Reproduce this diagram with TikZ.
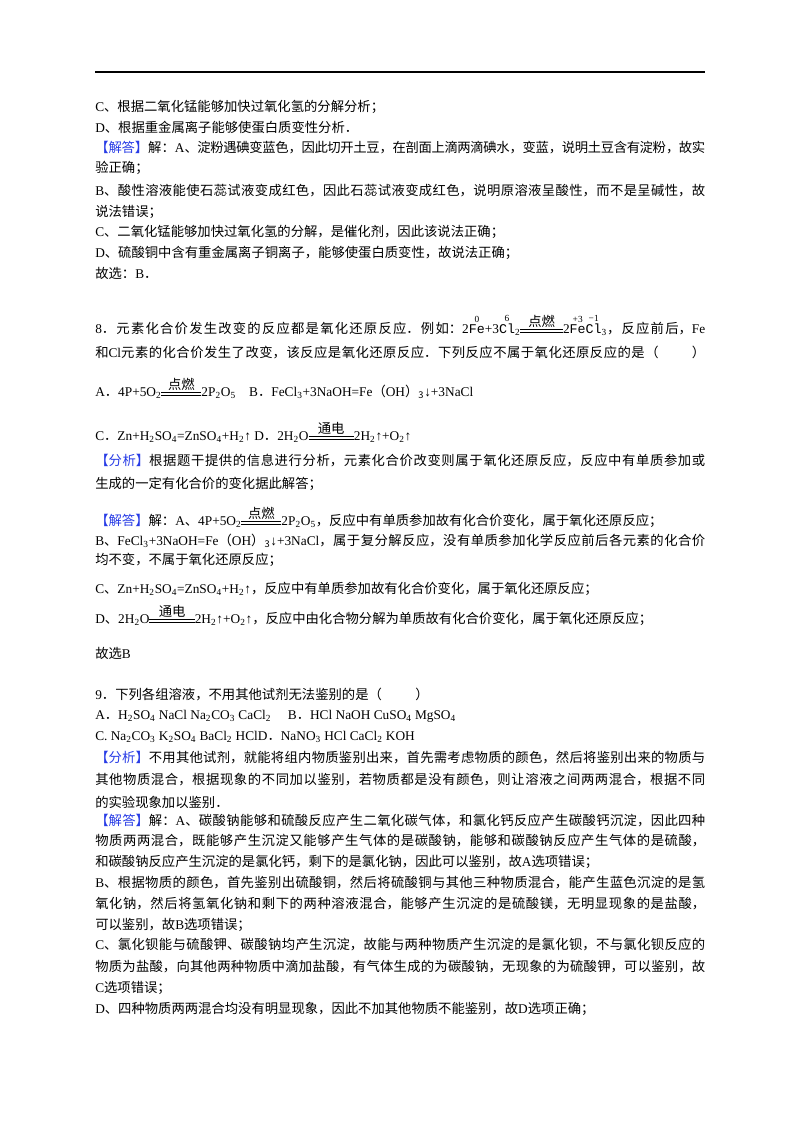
\documentclass[tikz,border=0pt]{standalone}
\usepackage{amsmath}
\usepackage{fontspec}
\setmainfont{Liberation Serif}
\newfontfamily\latinf{Liberation Serif}
\newfontfamily\cjk{Noto Sans CJK SC}
\newfontfamily\monof{Liberation Mono}
\XeTeXinterchartokenstate=1
\newXeTeXintercharclass\cjkcls
\count255="3000 \loop \XeTeXcharclass\count255=\cjkcls \ifnum\count255<"303F \advance\count255 1 \repeat
\count255="4E00 \loop \XeTeXcharclass\count255=\cjkcls \ifnum\count255<"9FFF \advance\count255 1 \repeat
\count255="FF00 \loop \XeTeXcharclass\count255=\cjkcls \ifnum\count255<"FFEF \advance\count255 1 \repeat
\XeTeXinterchartoks 0 \cjkcls={\cjk}
\XeTeXinterchartoks 4095 \cjkcls={\cjk}
\XeTeXinterchartoks \cjkcls 0={\latinf}
\XeTeXlinebreaklocale "zh"
\XeTeXlinebreakskip=0pt plus 2pt minus 0.3pt
\definecolor{jdblue}{RGB}{40,60,230}
\newcommand\blu[1]{\textcolor{jdblue}{#1}}
\newcommand\chsub[1]{\textsubscript{#1}\latinf}
\newcommand\rxn[2][3em]{$\overset{\mbox{#2}}{\raisebox{.25ex}{\vbox{\hrule width #1 height .5pt\kern1.3pt\hrule height .5pt}}}$\latinf}
\newcommand\val[2]{$\overset{\mbox{\scriptsize #1}}{\mbox{\monof #2}}$\latinf}
\begin{document}
\begin{tikzpicture}[x=0.75pt,y=-0.75pt,
  ln/.style={anchor=west,inner sep=0pt,font=\fontsize{10pt}{12pt}\selectfont},
  full/.style={ln,text width=457.5pt,align=justify,execute at begin node={\parfillskip=0pt}}]
\fill[white] (0,0) rectangle (800,1132);
\draw[line width=0.8pt] (95,72) coordinate (r1) -- (705,72) coordinate (r2);
\node[ln] (l1) at (95,107) {C、根据二氧化锰能够加快过氧化氢的分解分析；};
\node[ln] (l2) at (95,127) {D、根据重金属离子能够使蛋白质变性分析．};
\node[full] (l3) at (95,148) {\blu{【解答】}解：A、淀粉遇碘变蓝色，因此切开土豆，在剖面上滴两滴碘水，变蓝，说明土豆含有淀粉，故实};
\node[ln] (l4) at (95,168) {验正确；};
\node[full] (l5) at (95,191) {B、酸性溶液能使石蕊试液变成红色，因此石蕊试液变成红色，说明原溶液呈酸性，而不是呈碱性，故};
\node[ln] (l6) at (95,212) {说法错误；};
\node[ln] (l7) at (95,232) {C、二氧化锰能够加快过氧化氢的分解，是催化剂，因此该说法正确；};
\node[ln] (l8) at (95,253) {D、硫酸铜中含有重金属离子铜离子，能够使蛋白质变性，故说法正确；};
\node[ln] (l9) at (95,273) {故选：B．};
%
\node[full] (m1) at (95,325) {8．元素化合价发生改变的反应都是氧化还原反应．例如：2\val{0}{Fe}+3\val{6}{Cl}\chsub{2}\rxn[3.2em]{点燃}2\val{+3}{Fe}\val{−1}{Cl}\chsub{3}，反应前后，Fe};
\node[full] (m2) at (95,353) {和Cl元素的化合价发生了改变，该反应是氧化还原反应．下列反应不属于氧化还原反应的是（\hspace{2.5em}）};
\node[ln] (m3) at (95,388) {A．4P+5O\chsub{2}\rxn{点燃}2P\chsub{2}O\chsub{5}\quad B．FeCl\chsub{3}+3NaOH=Fe（OH）\chsub{3}↓+3NaCl};
\node[ln] (m4) at (95,432) {C．Zn+H\chsub{2}SO\chsub{4}=ZnSO\chsub{4}+H\chsub{2}↑ D．2H\chsub{2}O\rxn[3.4em]{通电}2H\chsub{2}↑+O\chsub{2}↑};
\node[full] (m5) at (95,461) {\blu{【分析】}根据题干提供的信息进行分析，元素化合价改变则属于氧化还原反应，反应中有单质参加或};
\node[ln] (m6) at (95,484) {生成的一定有化合价的变化据此解答；};
\node[ln] (m7) at (95,517) {\blu{【解答】}解：A、4P+5O\chsub{2}\rxn{点燃}2P\chsub{2}O\chsub{5}，反应中有单质参加故有化合价变化，属于氧化还原反应；};
\node[full] (m8) at (95,541) {B、FeCl\chsub{3}+3NaOH=Fe（OH）\chsub{3}↓+3NaCl，属于复分解反应，没有单质参加化学反应前后各元素的化合价};
\node[ln] (m9) at (95,560) {均不变，不属于氧化还原反应；};
\node[ln] (m10) at (95,589) {C、Zn+H\chsub{2}SO\chsub{4}=ZnSO\chsub{4}+H\chsub{2}↑，反应中有单质参加故有化合价变化，属于氧化还原反应；};
\node[ln] (m11) at (95,615) {D、2H\chsub{2}O\rxn[3.4em]{通电}2H\chsub{2}↑+O\chsub{2}↑，反应中由化合物分解为单质故有化合价变化，属于氧化还原反应；};
\node[ln] (m12) at (95,653) {故选B};
%
\node[ln] (n1) at (95,694) {9．下列各组溶液，不用其他试剂无法鉴别的是（\hspace{2.5em}）};
\node[ln] (n2) at (95,716) {A．H\chsub{2}SO\chsub{4} NaCl Na\chsub{2}CO\chsub{3} CaCl\chsub{2}\quad\ B．HCl NaOH CuSO\chsub{4} MgSO\chsub{4}};
\node[ln] (n3) at (95,737) {C. Na\chsub{2}CO\chsub{3} K\chsub{2}SO\chsub{4} BaCl\chsub{2} HClD．NaNO\chsub{3} HCl CaCl\chsub{2} KOH};
\node[full] (n4) at (95,758) {\blu{【分析】}不用其他试剂，就能将组内物质鉴别出来，首先需考虑物质的颜色，然后将鉴别出来的物质与};
\node[full] (n5) at (95,780) {其他物质混合，根据现象的不同加以鉴别，若物质都是没有颜色，则让溶液之间两两混合，根据不同};
\node[ln] (n6) at (95,802) {的实验现象加以鉴别．};
\node[full] (n7) at (95,821) {\blu{【解答】}解：A、碳酸钠能够和硫酸反应产生二氧化碳气体，和氯化钙反应产生碳酸钙沉淀，因此四种};
\node[full] (n8) at (95,841) {物质两两混合，既能够产生沉淀又能够产生气体的是碳酸钠，能够和碳酸钠反应产生气体的是硫酸，};
\node[ln] (n9) at (95,862) {和碳酸钠反应产生沉淀的是氯化钙，剩下的是氯化钠，因此可以鉴别，故A选项错误；};
\node[full] (n10) at (95,883) {B、根据物质的颜色，首先鉴别出硫酸铜，然后将硫酸铜与其他三种物质混合，能产生蓝色沉淀的是氢};
\node[full] (n11) at (95,904) {氧化钠，然后将氢氧化钠和剩下的两种溶液混合，能够产生沉淀的是硫酸镁，无明显现象的是盐酸，};
\node[ln] (n12) at (95,925) {可以鉴别，故B选项错误；};
\node[full] (n13) at (95,945) {C、氯化钡能与硫酸钾、碳酸钠均产生沉淀，故能与两种物质产生沉淀的是氯化钡，不与氯化钡反应的};
\node[full] (n14) at (95,967) {物质为盐酸，向其他两种物质中滴加盐酸，有气体生成的为碳酸钠，无现象的为硫酸钾，可以鉴别，故};
\node[ln] (n15) at (95,988) {C选项错误；};
\node[ln] (n16) at (95,1009) {D、四种物质两两混合均没有明显现象，因此不加其他物质不能鉴别，故D选项正确；};
\end{tikzpicture}
\end{document}
